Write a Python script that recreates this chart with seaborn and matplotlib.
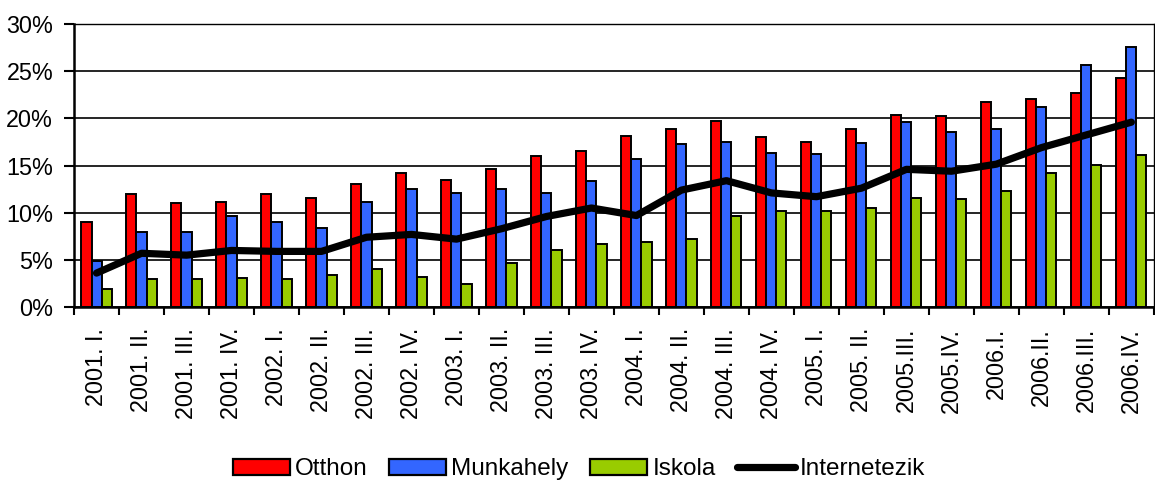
import matplotlib
matplotlib.use("Agg")
import matplotlib.pyplot as plt
from matplotlib.lines import Line2D
from matplotlib.ticker import FixedLocator, PercentFormatter
import numpy as np
import pandas as pd
import seaborn as sns

# Quarterly internet usage share by place of access (%)
quarters = [
    "2001. I.", "2001. II.", "2001. III.", "2001. IV.",
    "2002. I.", "2002. II.", "2002. III.", "2002. IV.",
    "2003. I.", "2003. II.", "2003. III.", "2003. IV.",
    "2004. I.", "2004. II.", "2004. III.", "2004. IV.",
    "2005. I.", "2005. II.", "2005.III.", "2005.IV.",
    "2006.I.", "2006.II.", "2006.III.", "2006.IV.",
]
otthon = [9.0, 12.0, 11.0, 11.1, 12.0, 11.6, 13.0, 14.2, 13.5, 14.6, 16.0, 16.5,
          18.1, 18.9, 19.75, 18.0, 17.45, 18.9, 20.35, 20.25, 21.7, 22.05, 22.65, 24.25]
munkahely = [4.9, 8.0, 8.0, 9.65, 9.0, 8.4, 11.1, 12.55, 12.05, 12.55, 12.1, 13.35,
             15.7, 17.3, 17.5, 16.35, 16.2, 17.35, 19.6, 18.6, 18.85, 21.2, 25.65, 27.6]
iskola = [1.9, 3.0, 3.0, 3.05, 3.0, 3.4, 4.0, 3.15, 2.4, 4.7, 6.0, 6.65,
          6.85, 7.2, 9.65, 10.2, 10.2, 10.5, 11.55, 11.45, 12.3, 14.25, 15.1, 16.1]
internetezik = [3.6, 5.7, 5.5, 6.0, 5.9, 5.9, 7.4, 7.7, 7.2, 8.3, 9.6, 10.5,
                9.7, 12.4, 13.4, 12.1, 11.7, 12.6, 14.6, 14.4, 15.15, 16.9, 18.25, 19.6]

series_names = ["Otthon", "Munkahely", "Iskola"]
line_name = "Internetezik"
colors = {"Otthon": "#FF0000", "Munkahely": "#3366FF", "Iskola": "#99CC00"}

sns.set_theme(style="white")
plt.rcParams["font.family"] = ["Liberation Sans", "DejaVu Sans"]
plt.rcParams["text.color"] = "black"
plt.rcParams["xtick.color"] = "black"
plt.rcParams["ytick.color"] = "black"

df = pd.DataFrame({
    "quarter": quarters * 3,
    "value": otthon + munkahely + iskola,
    "series": [s for s in series_names for _ in quarters],
})

fig = plt.figure(figsize=(11.55, 4.82), dpi=100)
ax = fig.add_axes([0.0641, 0.363, 0.9349, 0.587])

# horizontal grid behind the bars
ax.set_axisbelow(True)
ax.yaxis.grid(True, color="black", linewidth=1.2)
ax.xaxis.grid(False)

sns.barplot(data=df, x="quarter", y="value", hue="series", order=quarters,
            hue_order=series_names, palette=colors, width=0.67, saturation=1,
            edgecolor="black", linewidth=1.4, ax=ax, legend=False, zorder=2)

positions = np.arange(len(quarters))
sns.lineplot(x=positions, y=internetezik, color="black", linewidth=5.2,
             ax=ax, zorder=4, solid_joinstyle="round", solid_capstyle="round")

ax.set_xlim(-0.5, len(quarters) - 0.5)
ax.set_ylim(0, 30)
ax.set_yticks(np.arange(0, 31, 5))
ax.yaxis.set_major_formatter(PercentFormatter(decimals=0))
ax.set_xlabel("")
ax.set_ylabel("")

ax.set_xticks(positions)
ax.set_xticklabels(quarters, rotation=90, ha="center", va="top")
ax.xaxis.set_minor_locator(FixedLocator(np.arange(-0.5, len(quarters), 1.0)))
ax.tick_params(axis="x", which="major", length=0, pad=15, labelsize=16.8,
               colors="black", labelcolor="black")
ax.tick_params(axis="x", which="minor", length=6, width=1.5, direction="out",
               bottom=True, color="black")
ax.tick_params(axis="y", which="major", length=7, width=1.5, direction="out",
               left=True, pad=8, labelsize=16.8, colors="black", labelcolor="black")

for side in ["left", "bottom"]:
    ax.spines[side].set_color("black")
    ax.spines[side].set_linewidth(1.8)
for side in ["top", "right"]:
    ax.spines[side].set_color("black")
    ax.spines[side].set_linewidth(1.0)

handles = [plt.Rectangle((0, 0), 1, 1, facecolor=colors[s], edgecolor="black",
                         linewidth=1.6) for s in series_names]
handles.append(Line2D([0], [0], color="black", linewidth=5.2, solid_capstyle="round"))
fig.legend(handles, series_names + [line_name], loc="center",
           bbox_to_anchor=(0.501, 0.026), ncol=4, frameon=False,
           fontsize=17.5, handlelength=2.35, handleheight=0.6,
           handletextpad=0.2, columnspacing=0.9, labelcolor="black")

fig.savefig("out.png", dpi=100)
